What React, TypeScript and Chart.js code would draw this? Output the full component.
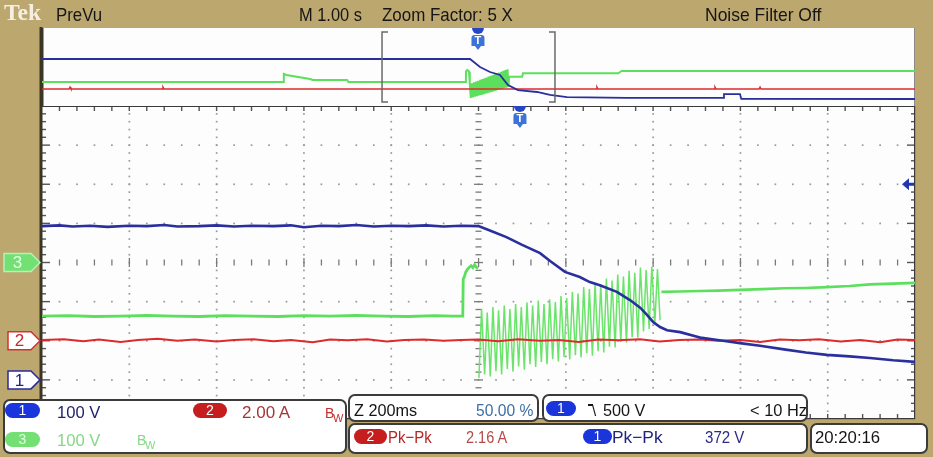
import React, { useEffect, useLayoutEffect, useRef } from "react";
import { Chart, registerables } from "chart.js";

Chart.register(...registerables);

// ---------------- data ----------------
// Main (zoomed) window: time in ms relative to the zoom centre, vertical position in screen divisions.
const blueT = [-1000, -960, -930, -890, -850, -800, -760, -720, -690, -640, -600, -560, -520, -470, -430, -400, -360, -320, -280, -240, -200, -160, -120, -80, -40, 0, 26, 64, 100, 141, 164, 198, 232, 255, 278, 317, 347, 371, 386, 400, 416, 432, 462, 501, 508, 560, 599, 645, 700, 750, 798, 850, 897, 950, 1000];
const blueV = [0.93, 0.95, 0.92, 0.94, 0.91, 0.94, 0.93, 0.96, 0.92, 0.93, 0.95, 0.92, 0.94, 0.93, 0.95, 0.9, 0.94, 0.93, 0.96, 0.92, 0.94, 0.93, 0.95, 0.92, 0.94, 0.93, 0.82, 0.65, 0.45, 0.24, 0.04, -0.24, -0.37, -0.5, -0.58, -0.75, -0.96, -1.16, -1.34, -1.52, -1.65, -1.73, -1.78, -1.9, -1.92, -2.0, -2.06, -2.13, -2.22, -2.3, -2.36, -2.4, -2.44, -2.5, -2.54];

const redT = [-1000, -950, -905, -870, -820, -780, -735, -690, -650, -600, -560, -515, -470, -430, -380, -340, -300, -255, -210, -170, -125, -80, -40, 0, 45, 90, 140, 185, 230, 275, 320, 370, 415, 460, 505, 550, 600, 645, 690, 735, 780, 830, 875, 920, 960, 1000];
const redV = [-1.98, -1.96, -2.01, -1.97, -2.03, -1.98, -1.95, -2.0, -1.97, -2.02, -1.98, -1.96, -2.01, -1.98, -2.04, -1.97, -1.99, -1.96, -2.02, -1.98, -1.97, -2.0, -1.98, -1.97, -2.01, -1.96, -2.0, -1.98, -2.03, -1.97, -1.99, -1.96, -2.02, -1.98, -1.97, -2.0, -1.98, -2.03, -1.97, -1.99, -1.96, -2.02, -1.98, -2.04, -1.97, -1.98];

const greenPreT = [-1000, -940, -880, -820, -760, -700, -640, -580, -520, -460, -400, -340, -280, -220, -160, -100, -60, -36, -35, -33, -29, -25, -21, -17, -13, -9, -5, -1];
const greenPreV = [-1.37, -1.36, -1.38, -1.37, -1.35, -1.37, -1.38, -1.36, -1.37, -1.38, -1.36, -1.37, -1.35, -1.37, -1.38, -1.36, -1.37, -1.37, -0.42, -0.38, -0.24, -0.17, -0.12, -0.08, -0.13, -0.06, -0.12, -0.15];

const greenTroughT = [1, 14, 27, 40, 53, 66, 79, 92, 105, 118, 131, 144, 157, 170, 183, 196, 209, 222, 235, 248, 261, 274, 287, 300, 313, 326, 339, 352, 365, 378, 391, 404, 416];
const greenTroughV = [-2.95, -2.86, -2.91, -2.78, -2.86, -2.72, -2.79, -2.66, -2.74, -2.6, -2.67, -2.54, -2.6, -2.47, -2.53, -2.42, -2.48, -2.37, -2.43, -2.32, -2.38, -2.27, -2.3, -2.15, -2.17, -2.03, -2.05, -1.91, -1.92, -1.76, -1.7, -1.55, -1.48];
const greenPeakT = [7, 20, 33, 46, 59, 72, 85, 98, 111, 124, 137, 150, 163, 176, 189, 202, 215, 228, 241, 254, 267, 280, 293, 306, 319, 332, 345, 358, 371, 384, 397, 410];
const greenPeakV = [-1.18, -1.28, -1.14, -1.22, -1.1, -1.19, -1.06, -1.14, -1.02, -1.1, -0.97, -1.06, -0.94, -1.01, -0.86, -0.91, -0.75, -0.79, -0.63, -0.68, -0.52, -0.56, -0.41, -0.46, -0.31, -0.36, -0.21, -0.26, -0.13, -0.19, -0.11, -0.17];

const greenPostT = [419, 460, 508, 550, 599, 650, 700, 750, 798, 850, 897, 950, 1000];
const greenPostV = [-0.75, -0.74, -0.73, -0.72, -0.7, -0.68, -0.66, -0.65, -0.63, -0.6, -0.56, -0.54, -0.52];

// Overview (PreVu) record: time in ms over the whole 10 s record, vertical position in compressed divisions.
const stripBlueT = [0, 4903, 5017, 5132, 5246, 5338, 5452, 5670, 5819, 6014, 6701, 7801, 7812, 7995, 8010, 10000];
const stripBlueV = [0.93, 0.93, 0.15, -0.33, -0.62, -1.59, -2.08, -2.27, -2.56, -2.76, -2.85, -2.85, -2.47, -2.47, -2.93, -2.95];

const stripGreenT = [0, 2761, 2770, 2800, 3070, 3100, 3494, 3510, 4850, 4856, 4870, 4885, 4892,
  4900, 4912, 4924, 4936, 4948, 4960, 4972, 4984, 4996, 5008, 5020, 5032, 5044, 5056, 5068, 5080, 5092, 5104, 5116, 5128, 5140, 5152, 5164, 5176, 5188, 5200, 5212, 5224, 5236, 5248, 5260, 5272, 5284, 5296, 5308, 5320, 5332, 5344,
  5350, 5500, 5510, 6600, 6640, 10000];
const stripGreenV = [-1.3, -1.3, -0.52, -0.62, -1.01, -1.11, -1.11, -1.3, -1.3, -0.3, -0.14, -0.2, -0.3,
  -1.5, -2.85, -1.42, -2.79, -1.34, -2.73, -1.26, -2.67, -1.18, -2.61, -1.1, -2.56, -1.02, -2.5, -0.94, -2.44, -0.86, -2.38, -0.78, -2.32, -0.7, -2.26, -0.62, -2.2, -0.54, -2.14, -0.46, -2.08, -0.38, -2.03, -0.3, -1.97, -0.22, -1.91, -0.14, -1.85, -0.06, -1.79,
  -0.8, -0.8, -0.45, -0.45, -0.23, -0.23];

const stripRedT = [0, 310, 321, 332, 1375, 1386, 1397, 6346, 6357, 6368, 7698, 7709, 7720, 8214, 8225, 8236, 10000];
const stripRedV = [-1.98, -1.98, -1.8, -1.98, -1.98, -1.8, -1.98, -1.98, -1.8, -1.98, -1.98, -1.8, -1.98, -1.98, -1.8, -1.98, -1.98];

const zoomWindow = [3895, 5876];
const stripTrigT = 4994;
const mainTrigT = 95;
const trigLevelDiv = 2;
const chLabels = ["3", "2", "1"];
const chOffsetDiv = [0, -2, -3];

// ---------------- styles ----------------
const BEIGE = "#bca86f";
const BLUE = "#2a2f9e";
const RED = "#dc2b2b";
const GREEN = "#5cdf5c";
const GREEN_OSC = "#6be46b";
const SANS = '"Liberation Sans", Arial, sans-serif';
const SERIF = '"Liberation Serif", "DejaVu Serif", serif';

const pts = (t: number[], v: number[]) => t.map((x, i) => ({ x, y: v[i] }));
const interleave = (aT: number[], aV: number[], bT: number[], bV: number[]) => {
  const out: { x: number; y: number }[] = [];
  for (let i = 0; i < aT.length; i++) {
    out.push({ x: aT[i], y: aV[i] });
    if (i < bT.length) out.push({ x: bT[i], y: bV[i] });
  }
  return out;
};

function trigMarker(ctx: CanvasRenderingContext2D, x: number, top: number) {
  ctx.save();
  ctx.fillStyle = "#2746c4";
  ctx.beginPath();
  ctx.arc(x, top, 6, 0, Math.PI);
  ctx.fill();
  ctx.fillStyle = "#3d72d8";
  ctx.beginPath();
  const l = x - 6.5, r = x + 6.5, t = top + 7, b = top + 18;
  ctx.moveTo(l + 3, t);
  ctx.lineTo(r - 3, t);
  ctx.quadraticCurveTo(r, t, r, t + 3);
  ctx.lineTo(r, b);
  ctx.lineTo(x + 3, b);
  ctx.lineTo(x, b + 4);
  ctx.lineTo(x - 3, b);
  ctx.lineTo(l, b);
  ctx.lineTo(l, t + 3);
  ctx.quadraticCurveTo(l, t, l + 3, t);
  ctx.fill();
  ctx.fillStyle = "#ffffff";
  ctx.font = `bold 11px ${SANS}`;
  ctx.textAlign = "center";
  ctx.textBaseline = "middle";
  ctx.fillText("T", x, top + 13);
  ctx.restore();
}

function chanMarker(ctx: CanvasRenderingContext2D, y: number, label: string, idx: number) {
  const fills = ["#72e072", "#ffffff", "#ffffff"];
  const strokes = ["#b8f0b8", "#d23232", "#2b2b9a"];
  const texts = ["#e4ffe4", "#c42a2a", "#22228a"];
  const x0 = idx === 0 ? 4 : 8;
  ctx.save();
  ctx.beginPath();
  ctx.moveTo(x0, y - 9);
  ctx.lineTo(31, y - 9);
  ctx.lineTo(40, y);
  ctx.lineTo(31, y + 9);
  ctx.lineTo(x0, y + 9);
  ctx.closePath();
  ctx.fillStyle = fills[idx];
  ctx.fill();
  ctx.lineWidth = 1.5;
  ctx.strokeStyle = strokes[idx];
  ctx.stroke();
  ctx.fillStyle = texts[idx];
  ctx.font = `17px ${SANS}`;
  ctx.textAlign = "center";
  ctx.textBaseline = "middle";
  ctx.fillText(label, (x0 + 31) / 2, y + 1);
  ctx.restore();
}

const mainPlugin = {
  id: "graticule",
  beforeDraw(chart: any) {
    const { ctx, chartArea: a, width, height } = chart;
    const xs = chart.scales.x, ys = chart.scales.y;
    const X = (v: number) => xs.getPixelForValue(v);
    const Y = (v: number) => ys.getPixelForValue(v);
    ctx.save();
    ctx.fillStyle = BEIGE;
    ctx.fillRect(0, 0, width, height);
    ctx.fillStyle = "#fdfdfd";
    ctx.fillRect(a.left, a.top, a.right - a.left, a.bottom - a.top);
    // dotted division lines
    ctx.fillStyle = "#9a9a9a";
    for (let i = 1; i < 10; i++) {
      if (i === 5) continue;
      const x = X(-1000 + i * 200);
      for (let k = 1; k < 40; k++) ctx.fillRect(x - 0.8, Y(-4 + k * 0.2) - 0.8, 1.7, 1.7);
    }
    for (let j = 1; j < 8; j++) {
      if (j === 4) continue;
      const y = Y(-4 + j);
      for (let k = 1; k < 50; k++) ctx.fillRect(X(-1000 + k * 40) - 0.8, y - 0.8, 1.7, 1.7);
    }
    // centre cross ticks
    ctx.fillStyle = "#7a7a7a";
    const cx = X(0), cy = Y(0);
    for (let k = 1; k < 40; k++) {
      const w = k % 5 === 0 ? 9 : 6;
      ctx.fillRect(cx - w / 2, Y(-4 + k * 0.2) - 0.6, w, 1.3);
    }
    for (let k = 1; k < 50; k++) {
      const h = k % 5 === 0 ? 9 : 6;
      ctx.fillRect(X(-1000 + k * 40) - 0.6, cy - h / 2, 1.3, h);
    }
    // edge ticks
    ctx.fillStyle = "#555";
    for (let k = 1; k < 50; k++) {
      const x = X(-1000 + k * 40);
      ctx.fillRect(x - 0.7, a.top, 1.4, 5);
      ctx.fillRect(x - 0.7, a.bottom - 5, 1.4, 5);
    }
    for (let k = 1; k < 40; k++) {
      const y = Y(-4 + k * 0.2);
      const l = k % 5 === 0 ? 8 : 4;
      ctx.fillRect(a.left, y - 0.7, l, 1.4);
      ctx.fillRect(a.right - l, y - 0.7, l, 1.4);
    }
    // borders
    ctx.fillStyle = "#3a3a3a";
    ctx.fillRect(a.left, a.top - 0.5, a.right - a.left, 1.5);
    ctx.fillRect(a.left, a.bottom - 1, a.right - a.left, 1.2);
    ctx.fillRect(a.right - 1, a.top, 1.2, a.bottom - a.top);
    ctx.fillStyle = "#3b3526";
    ctx.fillRect(a.left - 2.5, 27, 3, a.bottom - 27);
    ctx.restore();
  },
  afterDatasetsDraw(chart: any) {
    const { ctx, chartArea: a } = chart;
    const xs = chart.scales.x, ys = chart.scales.y;
    trigMarker(ctx, xs.getPixelForValue(mainTrigT), a.top);
    // trigger level arrow
    const ty = ys.getPixelForValue(trigLevelDiv);
    ctx.save();
    ctx.fillStyle = "#2136b0";
    ctx.beginPath();
    ctx.moveTo(a.right - 13, ty);
    ctx.lineTo(a.right - 6, ty - 6);
    ctx.lineTo(a.right - 6, ty + 6);
    ctx.closePath();
    ctx.fill();
    ctx.fillRect(a.right - 7, ty - 1.5, 6, 3);
    ctx.restore();
    chLabels.forEach((lab, i) => chanMarker(ctx, ys.getPixelForValue(chOffsetDiv[i]), lab, i));
  },
};

const stripPlugin = {
  id: "strip",
  beforeDraw(chart: any) {
    const { ctx, width, height } = chart;
    ctx.save();
    ctx.fillStyle = "#fdfdfd";
    ctx.fillRect(0, 0, width, height);
    ctx.fillStyle = "#3b3526";
    ctx.fillRect(0, 0, 1.5, height);
    ctx.fillStyle = "#8a8a8a";
    ctx.fillRect(width - 1, 0, 1, height);
    ctx.restore();
  },
  afterDatasetsDraw(chart: any) {
    const { ctx } = chart;
    const xs = chart.scales.x;
    const x0 = xs.getPixelForValue(zoomWindow[0]);
    const x1 = xs.getPixelForValue(zoomWindow[1]);
    ctx.save();
    ctx.strokeStyle = "#6a6a6a";
    ctx.lineWidth = 1.5;
    ctx.beginPath();
    ctx.moveTo(x0 + 6, 4);
    ctx.lineTo(x0, 4);
    ctx.lineTo(x0, 74);
    ctx.lineTo(x0 + 6, 74);
    ctx.moveTo(x1 - 6, 4);
    ctx.lineTo(x1, 4);
    ctx.lineTo(x1, 74);
    ctx.lineTo(x1 - 6, 74);
    ctx.stroke();
    ctx.restore();
    trigMarker(ctx, xs.getPixelForValue(stripTrigT), 0);
  },
};

const line = (data: any[], color: string, width: number) => ({
  data,
  borderColor: color,
  borderWidth: width,
  pointRadius: 0,
  showLine: true,
  tension: 0,
  fill: false,
});

const baseOpts = (padding: any, xr: number[], yr: number[]) => ({
  responsive: false,
  animation: false as const,
  devicePixelRatio: 1,
  events: [] as any[],
  layout: { padding },
  plugins: { legend: { display: false }, tooltip: { enabled: false } },
  scales: {
    x: { type: "linear" as const, min: xr[0], max: xr[1], display: false },
    y: { type: "linear" as const, min: yr[0], max: yr[1], display: false },
  },
});

type TxtProps = { x: number; base: number; size: number; w?: number; color: string; text: string; family?: string; weight?: number };
function Txt({ x, base, size, w, color, text, family = SANS, weight = 400 }: TxtProps) {
  const ref = useRef<HTMLSpanElement>(null);
  useLayoutEffect(() => {
    const el = ref.current;
    if (!el || !w) return;
    el.style.transform = "none";
    const nat = el.offsetWidth;
    if (nat > 0) el.style.transform = `scaleX(${w / nat})`;
  }, [w, text, size]);
  return (
    <span
      ref={ref}
      style={{
        position: "absolute",
        left: x,
        top: base - 0.85 * size,
        fontSize: size,
        lineHeight: `${size}px`,
        fontFamily: family,
        fontWeight: weight,
        color,
        whiteSpace: "pre",
        transformOrigin: "0 0",
        display: "block",
      }}
    >
      {text}
    </span>
  );
}

function Pill({ x, y, w, h, bg, fg, label }: { x: number; y: number; w: number; h: number; bg: string; fg: string; label: string }) {
  return (
    <div
      style={{
        position: "absolute",
        left: x,
        top: y,
        width: w,
        height: h,
        borderRadius: h / 2,
        background: bg,
        color: fg,
        fontFamily: SANS,
        fontSize: 14,
        lineHeight: `${h}px`,
        textAlign: "center",
      }}
    >
      {label}
    </div>
  );
}

function Box({ x, y, w, h }: { x: number; y: number; w: number; h: number }) {
  return (
    <div
      style={{
        position: "absolute",
        left: x,
        top: y,
        width: w,
        height: h,
        boxSizing: "border-box",
        border: "2px solid #3b3b3b",
        borderRadius: 7,
        background: "#ffffff",
      }}
    />
  );
}

export default function App() {
  const mainRef = useRef<HTMLCanvasElement>(null);
  const stripRef = useRef<HTMLCanvasElement>(null);

  useEffect(() => {
    document.body.style.margin = "0";
    const main = new Chart(mainRef.current as HTMLCanvasElement, {
      type: "scatter",
      data: {
        datasets: [
          line(pts(blueT, blueV), BLUE, 2.6),
          line(pts(redT, redV), RED, 2),
          line(pts(greenPostT, greenPostV), GREEN, 2.6),
          line(interleave(greenTroughT, greenTroughV, greenPeakT, greenPeakV), GREEN_OSC, 1.5),
          line(pts(greenPreT, greenPreV), GREEN, 2.8),
        ] as any,
      },
      options: baseOpts({ left: 42, right: 18, top: 106, bottom: 38 }, [-1000, 1000], [-4, 4]) as any,
      plugins: [mainPlugin],
    });
    const strip = new Chart(stripRef.current as HTMLCanvasElement, {
      type: "scatter",
      data: {
        datasets: [
          line(pts(stripBlueT, stripBlueV), BLUE, 1.8),
          line(pts(stripRedT, stripRedV), RED, 1.5),
          line(pts(stripGreenT, stripGreenV), GREEN, 2),
        ] as any,
      },
      options: baseOpts({ left: 0, right: 0, top: 0, bottom: 0 }, [0, 10000], [-3.63, 3.94]) as any,
      plugins: [stripPlugin],
    });
    return () => {
      main.destroy();
      strip.destroy();
    };
  }, []);

  return (
    <div style={{ position: "relative", width: 933, height: 457, overflow: "hidden", background: BEIGE }}>
      <canvas ref={mainRef} width={933} height={457} style={{ position: "absolute", left: 0, top: 0 }} />
      <canvas ref={stripRef} width={873} height={78} style={{ position: "absolute", left: 42, top: 28 }} />

      {/* header */}
      <Txt x={4} base={21} size={23} w={37} color="#f4efe2" text="Tek" family={SERIF} weight={700} />
      <Txt x={56} base={21} size={19} w={46} color="#151515" text="PreVu" />
      <Txt x={299} base={21} size={19} w={63} color="#151515" text="M 1.00 s" />
      <Txt x={382} base={21} size={19} w={131} color="#151515" text="Zoom Factor: 5 X" />
      <Txt x={705} base={21} size={19} w={116} color="#151515" text="Noise Filter Off" />

      {/* readouts */}
      <Box x={3} y={399} w={344} h={55} />
      <Pill x={5} y={403} w={35} h={15} bg="#1a35dc" fg="#ffffff" label="1" />
      <Txt x={57} base={418} size={17} w={43} color="#22226e" text="100 V" />
      <Pill x={193} y={403} w={34} h={15} bg="#c61e1e" fg="#ffffff" label="2" />
      <Txt x={242} base={418} size={17} w={48} color="#a63636" text="2.00 A" />
      <Txt x={325} base={418} size={14} color="#c43030" text="B" />
      <Txt x={333} base={422} size={11} color="#c43030" text="W" />
      <Pill x={5} y={432} w={35} h={15} bg="#74e074" fg="#e4ffe4" label="3" />
      <Txt x={57} base={446} size={17} w={43} color="#86d886" text="100 V" />
      <Txt x={137} base={445} size={14} color="#86d886" text="B" />
      <Txt x={145} base={449} size={11} color="#86d886" text="W" />

      <Box x={348} y={394} w={191} h={28} />
      <Txt x={354} base={416} size={17} w={63} color="#151515" text="Z 200ms" />
      <Txt x={476} base={416} size={17} w={57} color="#3d6fa3" text="50.00 %" />

      <Box x={542} y={394} w={266} h={28} />
      <Pill x={546} y={401} w={30} h={15} bg="#1a35dc" fg="#ffffff" label="1" />
      <div style={{ position: "absolute", left: 588, top: 404, width: 5, height: 1.5, background: "#151515" }} />
      <Txt x={592} base={416} size={15} color="#151515" text={"\\"} />
      <Txt x={603} base={416} size={17} w={42} color="#151515" text="500 V" />
      <Txt x={750} base={416} size={17} w={57} color="#151515" text="< 10 Hz" />

      <Box x={348} y={423} w={460} h={31} />
      <Pill x={354} y={429} w={33} h={15} bg="#c61e1e" fg="#ffffff" label="2" />
      <Txt x={388} base={443} size={17} w={44} color="#b52525" text="Pk−Pk" />
      <Txt x={466} base={443} size={17} w={41} color="#b54a4a" text="2.16 A" />
      <Pill x={583} y={429} w={29} h={15} bg="#1a35dc" fg="#ffffff" label="1" />
      <Txt x={612} base={443} size={17} w={51} color="#23237e" text="Pk−Pk" />
      <Txt x={705} base={443} size={17} w={39} color="#2c2c86" text="372 V" />

      <Box x={810} y={423} w={118} h={31} />
      <Txt x={815} base={443} size={17} w={65} color="#151515" text="20:20:16" />
    </div>
  );
}
